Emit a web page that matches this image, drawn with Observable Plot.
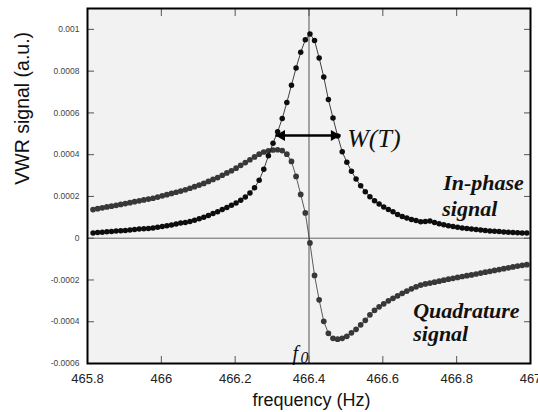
<!DOCTYPE html>
<html><head><meta charset="utf-8">
<script src="https://cdn.jsdelivr.net/npm/d3@7"></script>
<script src="https://cdn.jsdelivr.net/npm/@observablehq/plot@0.6"></script>
<style>html,body{margin:0;padding:0;background:#fff;}</style>
</head><body><div id="chart"></div>
<script>
const freq = [
465.815, 465.8275, 465.84, 465.8525, 465.865, 465.8775, 465.89, 465.9025, 465.915, 465.9275,
465.94, 465.9525, 465.965, 465.9775, 465.99, 466.0025, 466.015, 466.0275, 466.04, 466.0525,
466.065, 466.0775, 466.09, 466.1025, 466.115, 466.1275, 466.14, 466.1525, 466.165, 466.1775,
466.19, 466.2025, 466.215, 466.2275, 466.24, 466.2525, 466.265, 466.2775, 466.29, 466.3025,
466.315, 466.3275, 466.34, 466.3525, 466.365, 466.3775, 466.39, 466.4025, 466.415, 466.4275,
466.44, 466.4525, 466.465, 466.4775, 466.49, 466.5025, 466.515, 466.5275, 466.54, 466.5525,
466.565, 466.5775, 466.59, 466.6025, 466.615, 466.6275, 466.64, 466.6525, 466.665, 466.6775,
466.69, 466.7025, 466.715, 466.7275, 466.74, 466.7525, 466.765, 466.7775, 466.79, 466.8025,
466.815, 466.8275, 466.84, 466.8525, 466.865, 466.8775, 466.89, 466.9025, 466.915, 466.9275,
466.94, 466.9525, 466.965, 466.9775, 466.99
];
const inPhase = [
25.4e-6, 26.8e-6, 28.7e-6, 30.6e-6, 32.5e-6, 34.5e-6, 35.9e-6, 37.3e-6, 39.2e-6, 41.2e-6,
43.5e-6, 45.5e-6, 46.9e-6, 48.8e-6, 52.2e-6, 55.5e-6, 59.3e-6, 63.6e-6, 67.9e-6, 72.3e-6,
75e-6, 80.4e-6, 86e-6, 93e-6, 100.5e-6, 109e-6, 118e-6, 127e-6, 137e-6, 147e-6,
158e-6, 169e-6, 182e-6, 197e-6, 217e-6, 242e-6, 277e-6, 330e-6, 395e-6, 455e-6,
510e-6, 573e-6, 650e-6, 733e-6, 815e-6, 890e-6, 950e-6, 978e-6, 947e-6, 863e-6,
772e-6, 664e-6, 576e-6, 490e-6, 414e-6, 364e-6, 321e-6, 283e-6, 251e-6, 223e-6,
199e-6, 179e-6, 163.6e-6, 149.8e-6, 137.8e-6, 126.8e-6, 114e-6, 104e-6, 96.7e-6, 90e-6,
84.2e-6, 78.5e-6, 80.4e-6, 81.8e-6, 75.1e-6, 69.4e-6, 64.6e-6, 59.8e-6, 55.5e-6, 52.2e-6,
49.3e-6, 46.4e-6, 44e-6, 41.6e-6, 39.2e-6, 36.8e-6, 34.9e-6, 33e-6, 31.6e-6, 30.1e-6,
28.7e-6, 27.3e-6, 26.3e-6, 25.4e-6, 24.4e-6
];
const quadrature = [
136.9e-6, 141.2e-6, 145.5e-6, 149.8e-6, 153.6e-6, 157.4e-6, 161.7e-6, 166e-6, 170.3e-6, 174.7e-6,
179e-6, 183.3e-6, 187.6e-6, 191.4e-6, 197.1e-6, 202.9e-6, 208.6e-6, 214.4e-6, 220.1e-6, 225.9e-6,
232.1e-6, 239.3e-6, 246.9e-6, 254.6e-6, 262.2e-6, 271.8e-6, 281.4e-6, 290.4e-6, 301.5e-6, 312.5e-6,
323e-6, 335.4e-6, 348.8e-6, 362.2e-6, 375.6e-6, 389e-6, 402.4e-6, 412.9e-6, 418.7e-6, 422.5e-6,
423.5e-6, 419.6e-6, 402.4e-6, 367.5e-6, 295.7e-6, 209.6e-6, 121.1e-6, -22.5e-6, -178e-6, -295.2e-6,
-398.1e-6, -455.5e-6, -479.5e-6, -483.3e-6, -479.5e-6, -469.9e-6, -453.1e-6, -436.4e-6, -414.9e-6, -393.3e-6,
-367e-6, -345.5e-6, -328.7e-6, -314.4e-6, -300e-6, -288e-6, -276.1e-6, -264.1e-6, -253.1e-6, -242.6e-6,
-233e-6, -224.4e-6, -218.7e-6, -214.8e-6, -210.5e-6, -205.8e-6, -201e-6, -196.2e-6, -191.9e-6, -187.6e-6,
-183.3e-6, -179.4e-6, -175.6e-6, -171.3e-6, -167e-6, -162.7e-6, -158.4e-6, -154.1e-6, -150.2e-6, -145.9e-6,
-141.6e-6, -137.3e-6, -133.5e-6, -129.7e-6, -126.8e-6
];
const xTicks = [465.8, 466, 466.2, 466.4, 466.6, 466.8, 467];
const xTickLabels = ["465.8", "466", "466.2", "466.4", "466.6", "466.8", "467"];
const yTicks = [-0.0006, -0.0004, -0.0002, 0, 0.0002, 0.0004, 0.0006, 0.0008, 0.001];
const yTickLabels = ["-0.0006", "-0.0004", "-0.0002", "0", "0.0002", "0.0004", "0.0006", "0.0008", "0.001"];
const resonance = 466.4;
const widthEnds = [466.309, 466.4853];
const widthLevel = 0.000492;

const fmtX = new Map(xTicks.map((t, i) => [t, xTickLabels[i]]));
const fmtY = new Map(yTicks.map((t, i) => [t, yTickLabels[i]]));
const inRows = freq.map((f, i) => ({f, v: inPhase[i]}));
const quRows = freq.map((f, i) => ({f, v: quadrature[i]}));
const serif = "'Liberation Serif', 'Times New Roman', Times, serif";
const tickStyle = {fill: "none", label: null, stroke: "#555", strokeWidth: 1};

const chart = Plot.plot({
  width: 538, height: 412,
  marginLeft: 87, marginRight: 8, marginTop: 8, marginBottom: 49,
  style: {fontFamily: "'Liberation Sans', Arial, Helvetica, sans-serif", background: "#fff", color: "#222"},
  x: {domain: [465.8, 467]},
  y: {domain: [-0.0006, 0.0011]},
  marks: [
    Plot.frame({fill: "#f2f2f2", stroke: null}),
    Plot.ruleY([0], {stroke: "#666", strokeWidth: 1}),
    Plot.ruleX([resonance], {stroke: "#555", strokeWidth: 1}),
    Plot.line(quRows, {x: "f", y: "v", stroke: "#333", strokeWidth: 0.8}),
    Plot.dot(quRows, {x: "f", y: "v", r: 2.85, fill: "#383838", stroke: null}),
    Plot.line(inRows, {x: "f", y: "v", stroke: "#111", strokeWidth: 0.8}),
    Plot.dot(inRows, {x: "f", y: "v", r: 2.75, fill: "#0d0d0d", stroke: null}),
    Plot.link([{a: widthEnds[0], b: widthEnds[1], y: widthLevel}], {x1: "a", x2: "b", y1: "y", y2: "y", stroke: "#000", strokeWidth: 2.5}),
    Plot.dot([{x: widthEnds[0], y: widthLevel}], {x: "x", y: "y", symbol: "triangle", rotate: -90, r: 4.1, fill: "#000", stroke: null, dx: 6.4}),
    Plot.dot([{x: widthEnds[1], y: widthLevel}], {x: "x", y: "y", symbol: "triangle", rotate: 90, r: 4.1, fill: "#000", stroke: null, dx: -6.4}),
    Plot.text(["W(T)"], {x: 466.5035, y: 0.000439, textAnchor: "start", lineAnchor: "bottom", fontSize: 26, fontStyle: "italic", fontFamily: serif, fill: "#111"}),
    Plot.text(["In-phase"], {x: 466.7635, y: 0.000232, textAnchor: "start", lineAnchor: "bottom", fontSize: 22, fontStyle: "italic", fontWeight: "bold", fontFamily: serif, fill: "#111"}),
    Plot.text(["signal"], {x: 466.761, y: 0.000104, textAnchor: "start", lineAnchor: "bottom", fontSize: 22, fontStyle: "italic", fontWeight: "bold", fontFamily: serif, fill: "#111"}),
    Plot.text(["Quadrature"], {x: 466.6823, y: -0.000381, textAnchor: "start", lineAnchor: "bottom", fontSize: 22, fontStyle: "italic", fontWeight: "bold", fontFamily: serif, fill: "#111"}),
    Plot.text(["signal"], {x: 466.6823, y: -0.000493, textAnchor: "start", lineAnchor: "bottom", fontSize: 22, fontStyle: "italic", fontWeight: "bold", fontFamily: serif, fill: "#111"}),
    Plot.text(["f"], {x: resonance, y: -0.0006, dx: -16.5, dy: -4, textAnchor: "start", lineAnchor: "bottom", fontSize: 20, fontStyle: "italic", fontFamily: serif, fill: "#111"}),
    Plot.text(["0"], {x: resonance, y: -0.0006, dx: -8.5, dy: -1, textAnchor: "start", lineAnchor: "bottom", fontSize: 16, fontStyle: "italic", fontFamily: serif, fill: "#111"}),
    Plot.axisX({ticks: xTicks, anchor: "bottom", tickSize: 7, dy: -7, ...tickStyle}),
    Plot.axisX({ticks: xTicks, anchor: "top", tickSize: 7, dy: 7, ...tickStyle}),
    Plot.axisY({ticks: yTicks, anchor: "left", tickSize: 7, dx: 7, ...tickStyle}),
    Plot.axisY({ticks: yTicks, anchor: "right", tickSize: 7, dx: -7, ...tickStyle}),
    Plot.axisX({ticks: xTicks, anchor: "bottom", tickFormat: d => fmtX.get(d), tickSize: 0, tickPadding: 10, fontSize: 13, label: null, fill: "#222"}),
    Plot.axisY({ticks: yTicks, anchor: "left", tickFormat: d => fmtY.get(d), tickSize: 0, tickPadding: 8, fontSize: 8.5, label: null, fill: "#444"}),
    Plot.text(["frequency (Hz)"], {frameAnchor: "bottom", dx: 2.5, dy: 42.7, lineAnchor: "bottom", fontSize: 18, fill: "#111"}),
    Plot.text(["VWR signal (a.u.)"], {frameAnchor: "left", rotate: -90, dx: -58.7, dy: -1.3, lineAnchor: "bottom", fontSize: 19.5, fill: "#111"}),
    Plot.frame({stroke: "#000", strokeWidth: 2})
  ]
});
document.getElementById("chart").appendChild(chart);
</script>
</body></html>
